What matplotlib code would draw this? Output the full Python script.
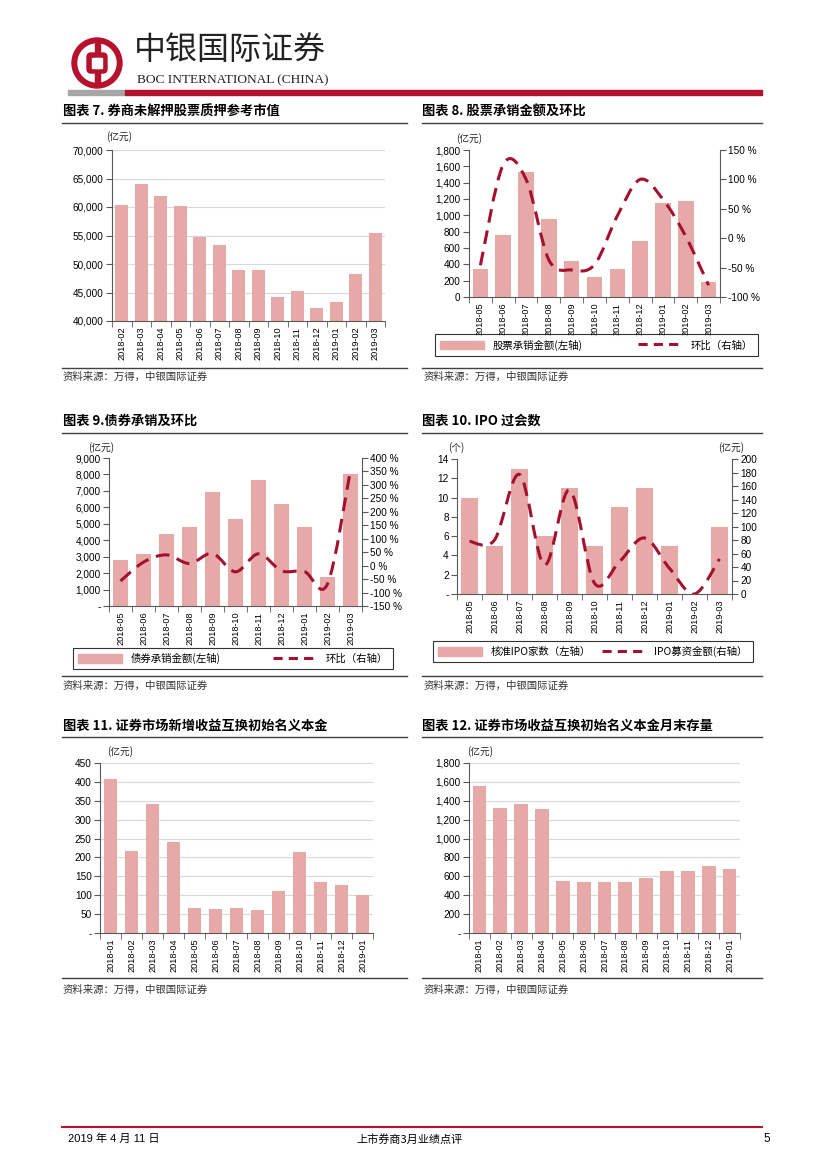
import matplotlib
matplotlib.use("Agg")
import matplotlib.pyplot as plt
from matplotlib.path import Path
from matplotlib.patches import PathPatch, Circle, Rectangle, FancyBboxPatch, Patch
from matplotlib.lines import Line2D
import numpy as np

plt.rcParams['font.family'] = ['Liberation Sans Narrow', 'Liberation Sans', 'Noto Sans CJK SC', 'DejaVu Sans']
CJK = ['Noto Sans CJK SC', 'DejaVu Sans']

# ---------------- data ----------------
c7_months = ['2018-02', '2018-03', '2018-04', '2018-05', '2018-06', '2018-07', '2018-08',
             '2018-09', '2018-10', '2018-11', '2018-12', '2019-01', '2019-02', '2019-03']
c7_values = [60300, 64000, 62000, 60200, 54700, 53400, 49000, 49000, 44200, 45200, 42300, 43300, 48300, 55400]

c8_months = ['2018-05', '2018-06', '2018-07', '2018-08', '2018-09', '2018-10', '2018-11',
             '2018-12', '2019-01', '2019-02', '2019-03']
c8_amount = [340, 760, 1530, 960, 440, 250, 345, 690, 1145, 1170, 180]
c8_mom = [-46, 125, 100, -37, -54, -45, 38, 100, 66, 3, -80]

c9_months = c8_months
c9_amount = [2800, 3150, 4400, 4780, 6920, 5320, 7650, 6200, 4780, 1750, 8050]
c9_mom = [-57, 13, 40, 8, 45, -23, 44, -19, -22, -68, 355]

c10_months = c8_months
c10_count = [10, 5, 13, 6, 11, 5, 9, 11, 5, 0, 7]
c10_raise = [78, 80, 177, 43, 154, 16, 48, 83, 38, 0, 52]

c11_months = ['2018-01', '2018-02', '2018-03', '2018-04', '2018-05', '2018-06', '2018-07',
              '2018-08', '2018-09', '2018-10', '2018-11', '2018-12', '2019-01']
c11_values = [408, 218, 342, 240, 66, 64, 66, 62, 112, 214, 134, 127, 101]

c12_months = c11_months
c12_values = [1560, 1320, 1370, 1310, 550, 540, 540, 540, 585, 655, 655, 705, 680]

titles = ['图表 7. 券商未解押股票质押参考市值', '图表 8. 股票承销金额及环比', '图表 9.债券承销及环比',
          '图表 10. IPO 过会数', '图表 11. 证券市场新增收益互换初始名义本金', '图表 12. 证券市场收益互换初始名义本金月末存量']
source_text = '资料来源：万得，中银国际证券'

BAR = '#E7A9A8'
LINE = '#A3112E'
SPINE = '#595959'
GRID = '#D9D9D9'
W, H = 827, 1169
XFS = 6.6
YFS = 7.2

fig = plt.figure(figsize=(W / 100, H / 100), dpi=100)

# overlay axes in pixel coordinates
ov = fig.add_axes([0, 0, 1, 1])
ov.set_xlim(0, W)
ov.set_ylim(H, 0)
ov.axis('off')


def rect(x0, y0, x1, y1):
    return [x0 / W, 1 - y1 / H, (x1 - x0) / W, (y1 - y0) / H]


def fx(x):
    return x / W


def fy(y):
    return 1 - y / H


# ---------------- header ----------------
ov.add_patch(Circle((97, 63), 25, color='#B5122E', zorder=2))
ov.add_patch(Circle((97, 63), 19, color='white', zorder=3))
ov.add_patch(FancyBboxPatch((87, 53), 20, 20, boxstyle='round,pad=0,rounding_size=4',
                            color='#B5122E', zorder=4))
ov.add_patch(Rectangle((92, 58), 10, 10, color='white', zorder=5))
ov.add_patch(Rectangle((94.5, 43), 5, 40, color='#B5122E', zorder=4))
ov.add_patch(Rectangle((94.5, 58), 5, 10, color='white', zorder=5))
ov.text(134, 50, '中银国际证券', fontsize=23, family=CJK, va='center', ha='left',
        color='#222222', fontweight='light')
ov.text(137, 80, 'BOC INTERNATIONAL (CHINA)', fontsize=9.6, family=['Liberation Serif'],
        va='center', ha='left', color='#222222')
ov.add_patch(Rectangle((68, 90), 57, 5, color='#A6A6A6'))
ov.add_patch(Rectangle((125, 90), 637, 5, color='#B5122E'))

# ---------------- frame texts ----------------
title_pos = [(63, 112), (422, 112), (63, 421), (422, 421), (63, 726), (422, 726)]
for (tx, ty), t in zip(title_pos, titles):
    ov.text(tx, ty, t, fontsize=9.5, family=CJK, fontweight='bold', va='center', ha='left', color='black')
for y in (123, 433, 737):
    ov.plot([62, 407], [y, y], color='#404040', lw=1.0)
    ov.plot([422, 762], [y, y], color='#404040', lw=1.0)
for ly, ty in ((368, 377), (676, 686), (978, 990)):
    ov.plot([62, 407], [ly, ly], color='#404040', lw=1.0)
    ov.plot([422, 762], [ly, ly], color='#404040', lw=1.0)
    ov.text(63, ty, source_text, fontsize=7.5, family=CJK, va='center', ha='left', color='#333333')
    ov.text(424, ty, source_text, fontsize=7.5, family=CJK, va='center', ha='left', color='#333333')

# footer
ov.plot([62, 762], [1127, 1127], color='#B5122E', lw=1.5)
ov.text(68, 1139, '2019 年 4 月 11 日', fontsize=8, va='center', ha='left', color='black')
ov.text(410, 1139, '上市券商3月业绩点评', fontsize=8, family=CJK, va='center', ha='center', color='black')
ov.text(770, 1139, '5', fontsize=8.5, va='center', ha='right', color='black')


# ---------------- helpers ----------------
def style_axes(ax, n, grid):
    for s in ('top', 'right'):
        ax.spines[s].set_visible(False)
    ax.spines['left'].set_color(SPINE)
    ax.spines['bottom'].set_color(SPINE)
    ax.set_xlim(-0.5, n - 0.5)
    ax.set_xticks(range(n))
    ax.set_xticks(np.arange(-0.5, n, 1.0), minor=True)
    ax.tick_params(axis='x', which='major', length=0, pad=4, labelsize=XFS, rotation=90)
    ax.tick_params(axis='x', which='minor', length=4, color=SPINE)
    ax.tick_params(axis='y', which='major', length=4, color=SPINE, labelsize=YFS, pad=2)
    if grid:
        ax.yaxis.grid(True, color=GRID, lw=0.8)
        ax.set_axisbelow(True)


def fmt_ticks(vals, zero='-'):
    out = []
    for v in vals:
        if v == 0:
            out.append(zero)
        else:
            out.append(f'{v:,.0f}')
    return out


def smooth_path(xs, ys):
    pts = np.column_stack([xs, ys]).astype(float)
    n = len(pts)
    verts = [pts[0]]
    codes = [Path.MOVETO]
    for i in range(n - 1):
        p0 = pts[i - 1] if i > 0 else pts[i]
        p1 = pts[i]
        p2 = pts[i + 1]
        p3 = pts[i + 2] if i + 2 < n else pts[i + 1]
        c1 = p1 + (p2 - p0) / 6.0
        c2 = p2 - (p3 - p1) / 6.0
        verts += [c1, c2, p2]
        codes += [Path.CURVE4] * 3
    return Path(verts, codes)


def add_smooth(ax, xs, ys):
    patch = PathPatch(smooth_path(xs, ys), fill=False, edgecolor=LINE, lw=2.2,
                      linestyle=(0, (4.5, 2.6)), capstyle='butt', zorder=5)
    ax.add_patch(patch)


def unit(x, y, s):
    ov.text(x, y, s, fontsize=7, family=CJK, va='center', ha='center', color='#222222')


def legend(box, handles, labels):
    x0, y0, x1, y1 = box
    lg = fig.legend(handles, labels, loc='center', ncol=2, mode='expand',
                    bbox_to_anchor=(fx(x0), fy(y1), (x1 - x0) / W, (y1 - y0) / H),
                    frameon=True, fancybox=False, edgecolor='black', prop={'family': CJK, 'size': 7.5},
                    handlelength=4.2, handleheight=0.9, borderaxespad=0, borderpad=0.5,
                    columnspacing=2.0)
    lg.get_frame().set_linewidth(0.8)
    return lg


def right_axis(ax, lo, hi, ticks, labels):
    ax2 = ax.twinx()
    ax2.set_ylim(lo, hi)
    for s in ('top', 'left', 'bottom'):
        ax2.spines[s].set_visible(False)
    ax2.spines['right'].set_color(SPINE)
    ax2.set_yticks(ticks)
    ax2.set_yticklabels(labels)
    ax2.tick_params(axis='y', length=4, color=SPINE, labelsize=YFS, pad=2)
    return ax2


# ---------------- chart 7 ----------------
ax = fig.add_axes(rect(112, 150, 385, 321))
x = np.arange(len(c7_months))
ax.bar(x, c7_values, width=0.66, color=BAR, zorder=2)
style_axes(ax, len(c7_months), True)
ax.set_ylim(40000, 70000)
yt = np.arange(40000, 70001, 5000)
ax.set_yticks(yt)
ax.set_yticklabels(fmt_ticks(yt))
ax.set_xticklabels(c7_months)
unit(119, 137, '(亿元)')

# ---------------- chart 8 ----------------
ax = fig.add_axes(rect(469, 150, 720, 297))
x = np.arange(len(c8_months))
ax.bar(x, c8_amount, width=0.68, color=BAR, zorder=2)
style_axes(ax, len(c8_months), False)
ax.set_ylim(0, 1800)
yt = np.arange(0, 1801, 200)
ax.set_yticks(yt)
ax.set_yticklabels(fmt_ticks(yt, zero='0'))
ax.set_xticklabels(c8_months)
rt = np.arange(-100, 151, 50)
ax2 = right_axis(ax, -100, 150, rt, [f'{v} %' for v in rt])
add_smooth(ax2, x, c8_mom)
unit(469, 139, '(亿元)')
legend((435, 333, 758, 357),
       [Patch(color=BAR), Line2D([], [], color=LINE, lw=2.2, linestyle=(0, (3, 2)))],
       ['股票承销金额(左轴)', '环比（右轴）'])

# ---------------- chart 9 ----------------
ax = fig.add_axes(rect(109, 458, 362, 606))
x = np.arange(len(c9_months))
ax.bar(x, c9_amount, width=0.68, color=BAR, zorder=2)
style_axes(ax, len(c9_months), False)
ax.set_ylim(0, 9000)
yt = np.arange(0, 9001, 1000)
ax.set_yticks(yt)
ax.set_yticklabels(fmt_ticks(yt))
ax.set_xticklabels(c9_months)
rt = np.arange(-150, 401, 50)
ax2 = right_axis(ax, -150, 400, rt, [f'{v} %' for v in rt])
add_smooth(ax2, x, c9_mom)
unit(101, 448, '(亿元)')
legend((73, 645, 393, 672),
       [Patch(color=BAR), Line2D([], [], color=LINE, lw=2.2, linestyle=(0, (3, 2)))],
       ['债券承销金额(左轴)', '环比（右轴）'])

# ---------------- chart 10 ----------------
ax = fig.add_axes(rect(457, 459, 732, 594))
x = np.arange(len(c10_months))
ax.bar(x, c10_count, width=0.68, color=BAR, zorder=2)
style_axes(ax, len(c10_months), False)
ax.set_ylim(0, 14)
yt = np.arange(0, 15, 2)
ax.set_yticks(yt)
ax.set_yticklabels(fmt_ticks(yt))
ax.set_xticklabels(c10_months)
rt = np.arange(0, 201, 20)
ax2 = right_axis(ax, 0, 200, rt, [str(v) for v in rt])
add_smooth(ax2, x, c10_raise)
unit(456, 448, '(个)')
unit(731, 448, '(亿元)')
legend((433, 635, 753, 668),
       [Patch(color=BAR), Line2D([], [], color=LINE, lw=2.2, linestyle=(0, (3, 2)))],
       ['核准IPO家数（左轴）', 'IPO募资金额(右轴）'])

# ---------------- chart 11 ----------------
ax = fig.add_axes(rect(100, 763, 373, 933))
x = np.arange(len(c11_months))
ax.bar(x, c11_values, width=0.66, color=BAR, zorder=2)
style_axes(ax, len(c11_months), True)
ax.set_ylim(0, 450)
yt = np.arange(0, 451, 50)
ax.set_yticks(yt)
ax.set_yticklabels(fmt_ticks(yt))
ax.set_xticklabels(c11_months)
unit(120, 752, '(亿元)')

# ---------------- chart 12 ----------------
ax = fig.add_axes(rect(469, 763, 740, 933))
x = np.arange(len(c12_months))
ax.bar(x, c12_values, width=0.66, color=BAR, zorder=2)
style_axes(ax, len(c12_months), True)
ax.set_ylim(0, 1800)
yt = np.arange(0, 1801, 200)
ax.set_yticks(yt)
ax.set_yticklabels(fmt_ticks(yt))
ax.set_xticklabels(c12_months)
unit(480, 752, '(亿元)')

fig.savefig('out.png', dpi=100)
